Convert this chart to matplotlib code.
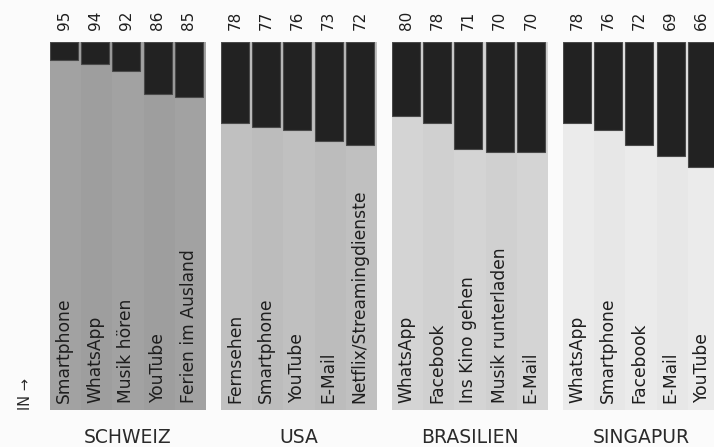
import numpy as np
import matplotlib.pyplot as plt

# Daten
laender = ["SCHWEIZ", "USA", "BRASILIEN", "SINGAPUR"]
schweiz_items = ["Smartphone", "WhatsApp", "Musik hören", "YouTube", "Ferien im Ausland"]
schweiz_werte = [95, 94, 92, 86, 85]
usa_items = ["Fernsehen", "Smartphone", "YouTube", "E-Mail", "Netflix/Streamingdienste"]
usa_werte = [78, 77, 76, 73, 72]
brasilien_items = ["WhatsApp", "Facebook", "Ins Kino gehen", "Musik runterladen", "E-Mail"]
brasilien_werte = [80, 78, 71, 70, 70]
singapur_items = ["WhatsApp", "Smartphone", "Facebook", "E-Mail", "YouTube"]
singapur_werte = [78, 76, 72, 69, 66]

alle_items = [schweiz_items, usa_items, brasilien_items, singapur_items]
alle_werte = [schweiz_werte, usa_werte, brasilien_werte, singapur_werte]
hintergrund = ["#a2a2a2", "#c0c0c0", "#d4d4d4", "#ebebeb"]
streifen = ["#9e9e9e", "#bcbcbc", "#d0d0d0", "#e7e7e7"]

plt.rcParams['font.family'] = ['DejaVu Sans']

W, H = 714, 447
fig = plt.figure(figsize=(W / 100, H / 100), dpi=100, facecolor="#fbfbfb")

links = [50, 221, 392, 563]
breite = 156
oben = 42
unten = 410

for k in range(4):
    ax = fig.add_axes([links[k] / W, 1 - unten / H, breite / W, (unten - oben) / H])
    ax.set_xlim(0, 5)
    ax.set_ylim(0, 100)
    ax.axis("off")
    x = np.arange(5)
    farben = [hintergrund[k] if i % 2 == 0 else streifen[k] for i in range(5)]
    ax.bar(x, 100, width=1, align="edge", color=farben, linewidth=0)
    werte = np.array(alle_werte[k])
    ax.bar(x, 100 - werte, bottom=werte, width=0.9, align="edge",
           color="#222222", edgecolor="#4a4a4a", linewidth=0.8)
    for i in range(5):
        ax.text(i + 0.45, 2.0, alle_items[k][i], rotation=90, ha="center", va="bottom",
                fontsize=12.3, color="#1e1e1e")
        ax.text(i + 0.45, 106, str(werte[i]), rotation=90, ha="center", va="center",
                fontsize=11, color="#1e1e1e")
    ax.text(2.5, -7.5, laender[k], ha="center", va="center", fontsize=13.5,
            color="#2a2a2a", clip_on=False)

fig.text(25 / W, 1 - 394 / H, "IN →", rotation=90, ha="center", va="center",
         fontsize=10.5, color="#2a2a2a")

fig.savefig("out.png", dpi=100, facecolor=fig.get_facecolor())
